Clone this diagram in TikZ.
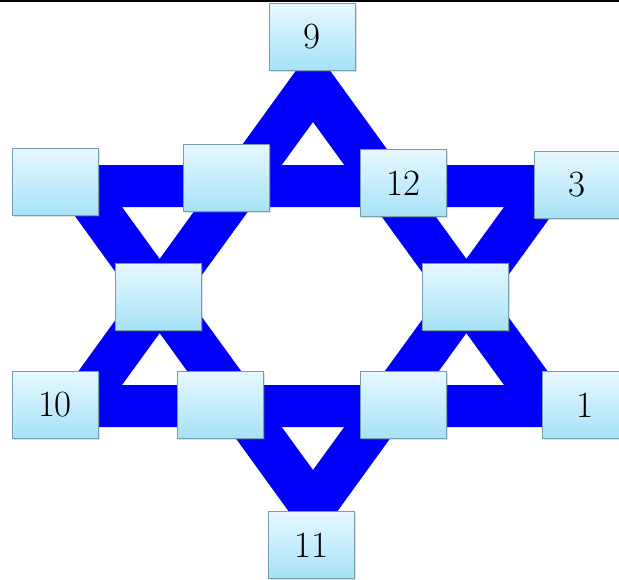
\documentclass[tikz,border=0pt]{standalone}
\usetikzlibrary{shadows}
\definecolor{starblue}{RGB}{0,0,250}
\definecolor{boxtop}{RGB}{230,248,255}
\definecolor{boxbot}{RGB}{166,226,248}
\definecolor{boxedge}{RGB}{120,158,172}
\begin{document}
\begin{tikzpicture}[x=1pt,y=-1pt,every node/.style={draw=boxedge,top color=boxtop,bottom color=boxbot,minimum width=86pt,minimum height=67pt,inner sep=0pt,font=\fontsize{37}{40}\selectfont,drop shadow={opacity=.25,shadow xshift=1.5pt,shadow yshift=-1.5pt}}]
\useasboundingbox (0,0) rectangle (619,579);
\draw[line width=2pt] (0,1)--(619,1);
\fill[starblue,even odd rule] (313,47)--(38,427)--(588,427)--cycle (313,122)--(122,385)--(504,385)--cycle;
\fill[starblue,even odd rule] (313,545)--(38,165)--(588,165)--cycle (313,470)--(122,207)--(504,207)--cycle;
\foreach \i/\x/\y/\w in {0/312/37/9,1/55/182/{},2/226/178/{},3/403/183/12,4/577/185/3,5/158/297/{},6/465/297/{},7/55/405/10,8/220/405/{},9/403/405/{},10/585/405/1,11/311/545/11}{\node (s\i) at (\x,\y) {\w};}
\end{tikzpicture}
\end{document}
